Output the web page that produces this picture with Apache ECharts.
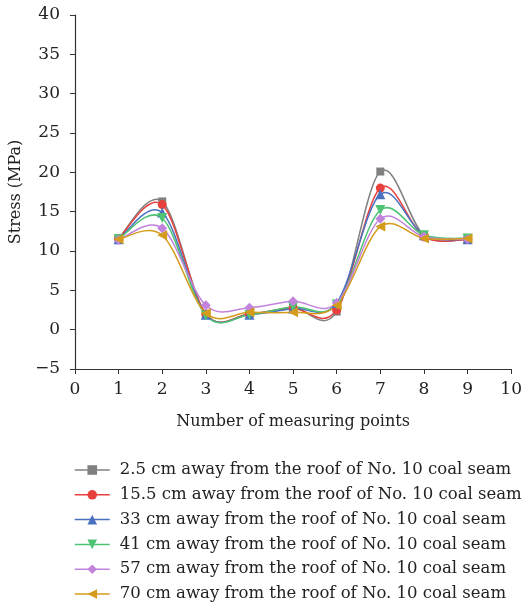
<!DOCTYPE html>
<html>
<head>
<meta charset="UTF-8">
<script src="https://cdn.jsdelivr.net/npm/echarts@6/dist/echarts.min.js"></script>
<style>
  * { margin: 0; padding: 0; }
  body { background: #fff; }
  #chart { width: 525px; height: 605px; }
</style>
</head>
<body>
<div id="chart"></div>
<script>
const points = [1, 2, 3, 4, 5, 6, 7, 8, 9];
const names = [
  '2.5 cm away from the roof of No. 10 coal seam',
  '15.5 cm away from the roof of No. 10 coal seam',
  '33 cm away from the roof of No. 10 coal seam',
  '41 cm away from the roof of No. 10 coal seam',
  '57 cm away from the roof of No. 10 coal seam',
  '70 cm away from the roof of No. 10 coal seam'
];
const s25 = [11.6, 16.3, 2.0, 2.0, 2.8, 2.3, 20.1, 12.0, 11.5];
const s155 = [11.6, 15.9, 2.0, 2.0, 2.7, 2.5, 18.0, 11.8, 11.5];
const s33 = [11.5, 14.9, 1.9, 1.9, 2.7, 3.4, 17.2, 12.0, 11.5];
const s41 = [11.5, 14.2, 1.8, 1.9, 2.9, 3.2, 15.2, 12.0, 11.6];
const s57 = [11.4, 12.9, 3.1, 2.8, 3.6, 3.4, 14.1, 11.8, 11.5];
const s70 = [11.5, 12.0, 2.1, 2.2, 2.2, 3.1, 13.1, 11.6, 11.6];

const colors = ['#808080', '#e8413d', '#4a70c0', '#4fc374', '#c283dd', '#d49c1c'];
const symbols = ['rect', 'circle', 'triangle', 'triangle', 'diamond', 'triangle'];
const rotates = [0, 0, 0, 180, 0, 90];
const values = [s25, s155, s33, s41, s57, s70];

const font = '"DejaVu Serif", "Liberation Serif", serif';

// spreadsheet-style smoothed line: one bezier per gap, handles from the neighbours
function splineSegment(color) {
  return function (params, api) {
    const i = params.dataIndexInside;
    const n = params.dataInsideLength;
    if (i >= n - 1) return null;
    const pt = k => {
      k = Math.max(0, Math.min(n - 1, k));
      return api.coord([api.value(0, k), api.value(1, k)]);
    };
    const p0 = pt(i - 1), p1 = pt(i), p2 = pt(i + 1), p3 = pt(i + 2);
    return {
      type: 'bezierCurve',
      shape: {
        x1: p1[0], y1: p1[1], x2: p2[0], y2: p2[1],
        cpx1: p1[0] + (p2[0] - p0[0]) / 6, cpy1: p1[1] + (p2[1] - p0[1]) / 6,
        cpx2: p2[0] - (p3[0] - p1[0]) / 6, cpy2: p2[1] - (p3[1] - p1[1]) / 6
      },
      style: { stroke: color, fill: 'none', lineWidth: 1.5 }
    };
  };
}

const series = [];
values.forEach((vals, i) => {
  series.push({
    name: names[i],
    type: 'line',
    data: vals.map((v, j) => [points[j], v]),
    symbol: symbols[i],
    symbolSize: symbols[i] === 'rect' ? 8 : (symbols[i] === 'circle' ? 9 : 10),
    symbolRotate: rotates[i],
    showAllSymbol: true,
    lineStyle: { color: colors[i], width: 1.5, opacity: 0 },
    itemStyle: { color: colors[i] },
    z: 3
  });
});
values.forEach((vals, i) => {
  series.push({
    name: names[i],
    type: 'custom',
    data: vals.map((v, j) => [points[j], v]),
    renderItem: splineSegment(colors[i]),
    silent: true,
    z: 2
  });
});

const chart = echarts.init(document.getElementById('chart'));
chart.setOption({
  animation: false,
  textStyle: { fontFamily: font },
  grid: { left: 73, right: 9, top: 15, bottom: 236, containLabel: false },
  xAxis: {
    type: 'value',
    min: 0, max: 10, interval: 1,
    name: 'Number of measuring points',
    nameLocation: 'middle',
    nameGap: 45,
    nameTextStyle: { fontSize: 16, color: '#222', fontFamily: font },
    axisLine: { onZero: false, lineStyle: { color: '#333', width: 1.2 } },
    axisTick: { show: true, length: 5, lineStyle: { color: '#333' } },
    axisLabel: { fontSize: 17, color: '#222', margin: 12, fontFamily: font },
    splitLine: { show: false }
  },
  yAxis: {
    type: 'value',
    min: -5, max: 40, interval: 5,
    name: 'Stress (MPa)',
    nameLocation: 'middle',
    nameGap: 48,
    nameTextStyle: { fontSize: 16, color: '#222', fontFamily: font },
    axisLine: { show: true, lineStyle: { color: '#333', width: 1.2 } },
    axisTick: { show: true, length: 5, lineStyle: { color: '#333' } },
    axisLabel: {
      fontSize: 17, color: '#222', margin: 15, fontFamily: font,
      formatter: v => String(v).replace('-', '\u2212')
    },
    splitLine: { show: false }
  },
  legend: {
    orient: 'vertical',
    left: 69,
    top: 455,
    height: 160,
    itemWidth: 35,
    itemHeight: 12,
    itemGap: 4.8,
    lineStyle: { width: 1.5, opacity: 1 },
    textStyle: { fontSize: 16.5, color: '#222', lineHeight: 20, fontFamily: font, padding: [0, 0, 0, 5] },
    data: names
  },
  series: series
});
</script>
</body>
</html>
